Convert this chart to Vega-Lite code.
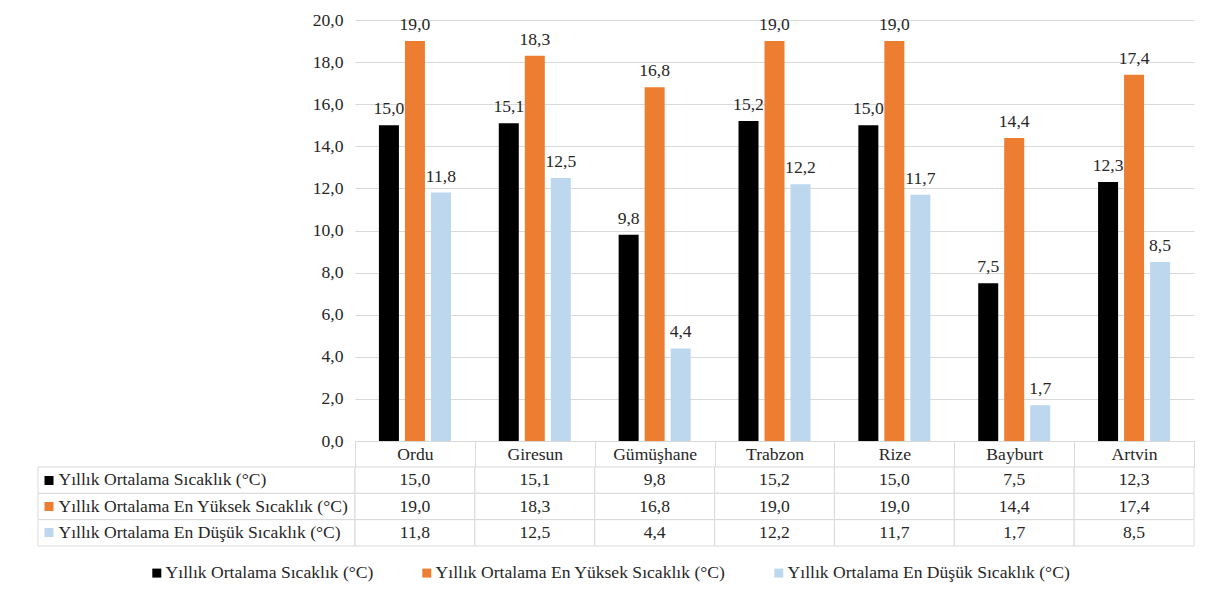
{
  "$schema": "https://vega.github.io/schema/vega-lite/v6.json",
  "padding": {"left": 37, "top": 11, "right": 9, "bottom": 20},
  "background": "white",
  "config": {
    "font": "Liberation Serif, Times New Roman, serif",
    "view": {"stroke": null},
    "locale": {"number": {"decimal": ",", "thousands": ".", "grouping": [3], "currency": ["", " ₺"]}},
    "axis": {"labelFont": "Liberation Serif, Times New Roman, serif", "labelFontSize": 17.6, "labelColor": "#262626"},
    "legend": {"labelFont": "Liberation Serif, Times New Roman, serif", "labelFontSize": 17.6, "labelColor": "#262626"},
    "text": {"font": "Liberation Serif, Times New Roman, serif"}
  },
  "datasets": {
    "sicaklik": [
      {"il": "Ordu", "seri": "Yıllık Ortalama Sıcaklık (°C)", "deger": 15.0},
      {"il": "Ordu", "seri": "Yıllık Ortalama En Yüksek Sıcaklık (°C)", "deger": 19.0},
      {"il": "Ordu", "seri": "Yıllık Ortalama En Düşük Sıcaklık (°C)", "deger": 11.8},
      {"il": "Giresun", "seri": "Yıllık Ortalama Sıcaklık (°C)", "deger": 15.1},
      {"il": "Giresun", "seri": "Yıllık Ortalama En Yüksek Sıcaklık (°C)", "deger": 18.3},
      {"il": "Giresun", "seri": "Yıllık Ortalama En Düşük Sıcaklık (°C)", "deger": 12.5},
      {"il": "Gümüşhane", "seri": "Yıllık Ortalama Sıcaklık (°C)", "deger": 9.8},
      {"il": "Gümüşhane", "seri": "Yıllık Ortalama En Yüksek Sıcaklık (°C)", "deger": 16.8},
      {"il": "Gümüşhane", "seri": "Yıllık Ortalama En Düşük Sıcaklık (°C)", "deger": 4.4},
      {"il": "Trabzon", "seri": "Yıllık Ortalama Sıcaklık (°C)", "deger": 15.2},
      {"il": "Trabzon", "seri": "Yıllık Ortalama En Yüksek Sıcaklık (°C)", "deger": 19.0},
      {"il": "Trabzon", "seri": "Yıllık Ortalama En Düşük Sıcaklık (°C)", "deger": 12.2},
      {"il": "Rize", "seri": "Yıllık Ortalama Sıcaklık (°C)", "deger": 15.0},
      {"il": "Rize", "seri": "Yıllık Ortalama En Yüksek Sıcaklık (°C)", "deger": 19.0},
      {"il": "Rize", "seri": "Yıllık Ortalama En Düşük Sıcaklık (°C)", "deger": 11.7},
      {"il": "Bayburt", "seri": "Yıllık Ortalama Sıcaklık (°C)", "deger": 7.5},
      {"il": "Bayburt", "seri": "Yıllık Ortalama En Yüksek Sıcaklık (°C)", "deger": 14.4},
      {"il": "Bayburt", "seri": "Yıllık Ortalama En Düşük Sıcaklık (°C)", "deger": 1.7},
      {"il": "Artvin", "seri": "Yıllık Ortalama Sıcaklık (°C)", "deger": 12.3},
      {"il": "Artvin", "seri": "Yıllık Ortalama En Yüksek Sıcaklık (°C)", "deger": 17.4},
      {"il": "Artvin", "seri": "Yıllık Ortalama En Düşük Sıcaklık (°C)", "deger": 8.5}
    ]
  },
  "columns": 2,
  "bounds": "flush",
  "spacing": {"row": 26, "column": 0},
  "concat": [
    {
      "width": 317,
      "height": 421,
      "data": {"values": []},
      "mark": "text",
      "encoding": {}
    },
    {
      "width": 839,
      "height": 421,
      "data": {"name": "sicaklik"},
      "encoding": {
        "x": {
          "field": "il",
          "type": "nominal",
          "sort": ["Ordu", "Giresun", "Gümüşhane", "Trabzon", "Rize", "Bayburt", "Artvin"],
          "scale": {"paddingInner": 0, "paddingOuter": 0},
          "axis": {
            "title": null,
            "labelAngle": 0,
            "domainColor": "#d9d9d9",
            "tickColor": "#d9d9d9",
            "tickBand": "extent",
            "tickSize": 26,
            "labelPadding": -22
          }
        },
        "xOffset": {
          "field": "seri",
          "type": "nominal",
          "sort": ["Yıllık Ortalama Sıcaklık (°C)", "Yıllık Ortalama En Yüksek Sıcaklık (°C)", "Yıllık Ortalama En Düşük Sıcaklık (°C)"],
          "scale": {"paddingInner": 0.2308, "paddingOuter": 0.92}
        },
        "y": {
          "field": "deger",
          "type": "quantitative",
          "scale": {"domain": [0, 20], "nice": false},
          "axis": {
            "title": null,
            "values": [0, 2, 4, 6, 8, 10, 12, 14, 16, 18, 20],
            "format": ".1f",
            "domain": false,
            "ticks": false,
            "gridColor": "#d9d9d9",
            "labelPadding": 12
          }
        }
      },
      "layer": [
        {
          "mark": {"type": "bar"},
          "encoding": {
            "color": {
              "field": "seri",
              "type": "nominal",
              "scale": {
                "domain": ["Yıllık Ortalama Sıcaklık (°C)", "Yıllık Ortalama En Yüksek Sıcaklık (°C)", "Yıllık Ortalama En Düşük Sıcaklık (°C)"],
                "range": ["#000000", "#ed7d31", "#bdd7ee"]
              },
              "legend": {
                "title": null,
                "orient": "none",
                "legendX": 110,
                "legendY": 544,
                "direction": "horizontal",
                "symbolType": "square",
                "symbolSize": 81,
                "symbolStrokeWidth": 0,
                "labelOffset": 0,
                "columnPadding": 44,
                "labelLimit": 400
              }
            }
          }
        },
        {
          "mark": {"type": "text", "baseline": "alphabetic", "dy": -11, "fontSize": 17.6, "color": "#262626"},
          "encoding": {
            "text": {"field": "deger", "type": "quantitative", "format": ".1f"}
          }
        }
      ]
    },
    {
      "width": 317,
      "height": 79,
      "data": {"name": "sicaklik"},
      "transform": [{"aggregate": [], "groupby": ["seri"]}],
      "mark": {"type": "rect", "fill": "white", "stroke": "#d9d9d9", "strokeWidth": 1},
      "encoding": {
        "y": {
          "field": "seri",
          "type": "nominal",
          "sort": ["Yıllık Ortalama Sıcaklık (°C)", "Yıllık Ortalama En Yüksek Sıcaklık (°C)", "Yıllık Ortalama En Düşük Sıcaklık (°C)"],
          "scale": {"paddingInner": 0, "paddingOuter": 0},
          "axis": {
            "title": null,
            "orient": "left",
            "offset": -6,
            "domain": false,
            "grid": false,
            "ticks": true,
            "tickSize": -9,
            "tickWidth": 9,
            "tickCap": "butt",
            "tickColor": {
              "condition": [
                {"test": "datum.value === 'Yıllık Ortalama Sıcaklık (°C)'", "value": "#000000"},
                {"test": "datum.value === 'Yıllık Ortalama En Yüksek Sıcaklık (°C)'", "value": "#ed7d31"}
              ],
              "value": "#bdd7ee"
            },
            "labelAlign": "left",
            "labelPadding": -5,
            "labelLimit": 400
          }
        }
      }
    },
    {
      "width": 839,
      "height": 79,
      "data": {"name": "sicaklik"},
      "encoding": {
        "x": {
          "field": "il",
          "type": "nominal",
          "sort": ["Ordu", "Giresun", "Gümüşhane", "Trabzon", "Rize", "Bayburt", "Artvin"],
          "scale": {"paddingInner": 0, "paddingOuter": 0},
          "axis": null
        },
        "y": {
          "field": "seri",
          "type": "nominal",
          "sort": ["Yıllık Ortalama Sıcaklık (°C)", "Yıllık Ortalama En Yüksek Sıcaklık (°C)", "Yıllık Ortalama En Düşük Sıcaklık (°C)"],
          "scale": {"paddingInner": 0, "paddingOuter": 0},
          "axis": null
        }
      },
      "layer": [
        {"mark": {"type": "rect", "fill": "white", "stroke": "#d9d9d9", "strokeWidth": 1}},
        {
          "mark": {"type": "text", "fontSize": 17.6, "color": "#262626", "baseline": "middle"},
          "encoding": {"text": {"field": "deger", "type": "quantitative", "format": ".1f"}}
        }
      ]
    }
  ]
}
